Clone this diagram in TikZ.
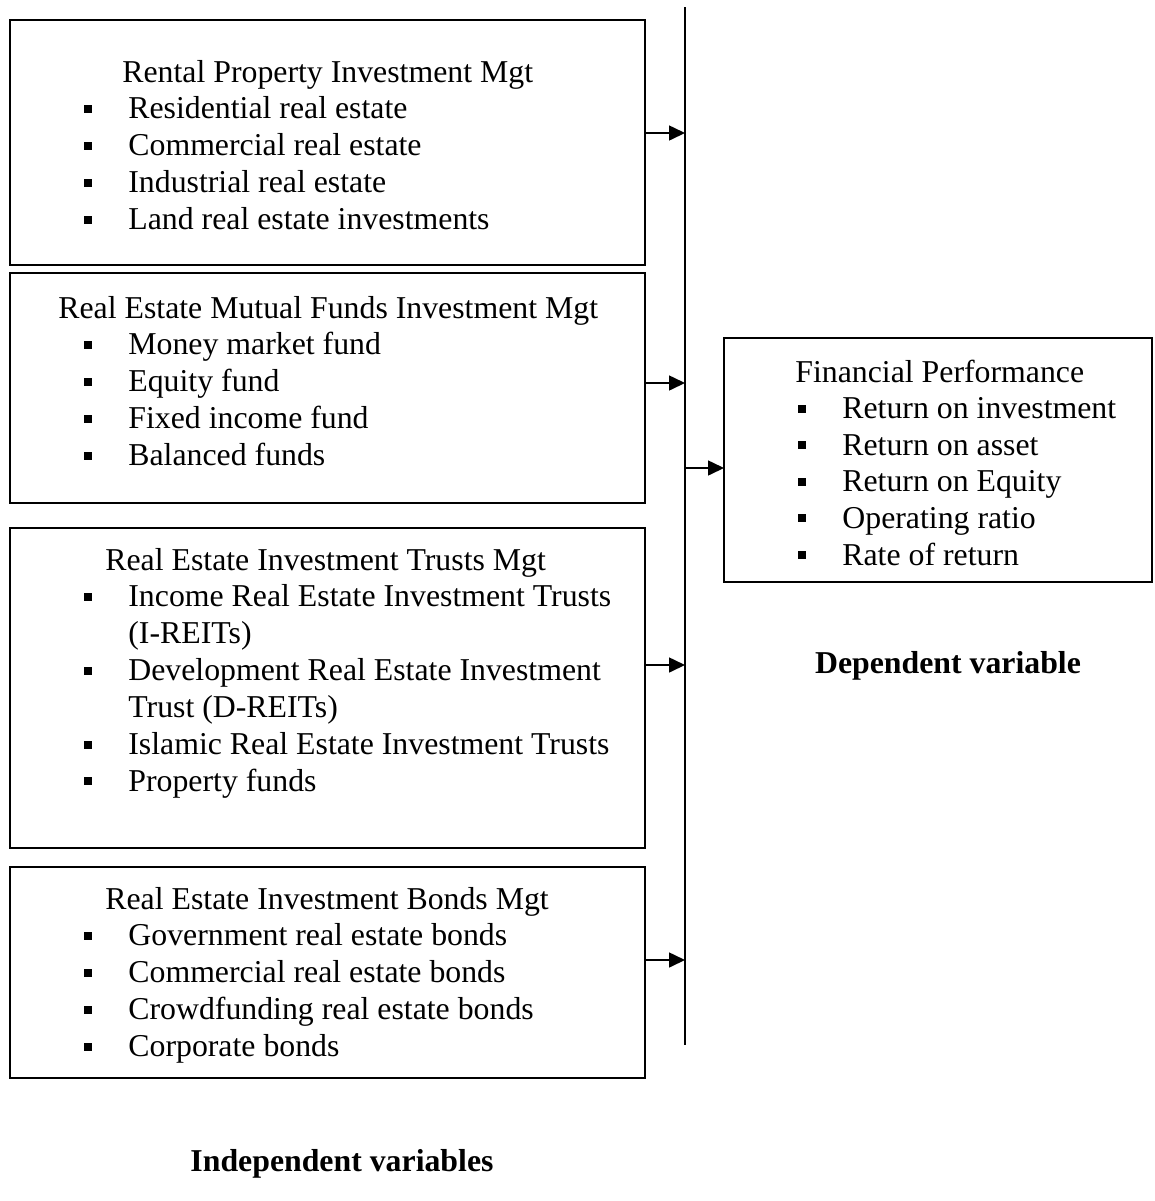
\documentclass[tikz,border=0pt]{standalone}
\usepackage{fontspec}
\setmainfont{Liberation Serif}
\usetikzlibrary{arrows.meta}
\begin{document}
\begin{tikzpicture}[x=0.5pt,y=-0.5pt,
  box/.style={draw,line width=1.1pt,inner sep=0pt,outer sep=0pt},
  txt/.style={inner sep=0pt,anchor=base west,font=\fontsize{15.9}{18.4}\selectfont},
  bul/.style={fill=black,inner sep=0pt,minimum width=3.8pt,minimum height=4pt},
  arr/.style={line width=0.8pt,-{Triangle[length=8pt,width=7.5pt]}},
  lbl/.style={inner sep=0pt,anchor=base,font=\fontsize{15.9}{18.4}\selectfont\bfseries}]
\useasboundingbox (0,0) rectangle (1155,1201);
% boxes
\node[box,minimum width=317.5pt,minimum height=122.5pt] (b1) at (327.5,142.5) {};
\node[box,minimum width=317.5pt,minimum height=115pt] (b2) at (327.5,388) {};
\node[box,minimum width=317.5pt,minimum height=160pt] (b3) at (327.5,688) {};
\node[box,minimum width=317.5pt,minimum height=105.5pt] (b4) at (327.5,972.5) {};
\node[box,minimum width=214pt,minimum height=122pt] (fp) at (938,460) {};
% box 1
\node[txt] (h1) at (122,82) {Rental Property Investment Mgt};
\foreach \t [count=\i] in {Residential real estate,Commercial real estate,Industrial real estate,Land real estate investments}{
  \node[txt] (t1-\i) at (128,{82+36.9*\i}) {\t};
  \node[bul] (p1-\i) at (88,{72+36.9*\i}) {};
}
% box 2
\node[txt] (h2) at (58,318) {Real Estate Mutual Funds Investment Mgt};
\foreach \t [count=\i] in {Money market fund,Equity fund,Fixed income fund,Balanced funds}{
  \node[txt] (t2-\i) at (128,{318+36.9*\i}) {\t};
  \node[bul] (p2-\i) at (88,{308+36.9*\i}) {};
}
% box 3
\node[txt] (h3) at (105,570) {Real Estate Investment Trusts Mgt};
\foreach \t [count=\i] in {Income Real Estate Investment Trusts,{(I-REITs)},Development Real Estate Investment,{Trust (D-REITs)},Islamic Real Estate Investment Trusts,Property funds}{
  \node[txt] (t3-\i) at (128,{570+36.9*\i}) {\t};
}
\foreach \i in {1,3,5,6}{
  \node[bul] (p3-\i) at (88,{560+36.9*\i}) {};
}
% box 4
\node[txt] (h4) at (105,909) {Real Estate Investment Bonds Mgt};
\foreach \t [count=\i] in {Government real estate bonds,Commercial real estate bonds,Crowdfunding real estate bonds,Corporate bonds}{
  \node[txt] (t4-\i) at (128,{909+36.9*\i}) {\t};
  \node[bul] (p4-\i) at (88,{899+36.9*\i}) {};
}
% right box
\node[txt] (h5) at (795,382) {Financial Performance};
\foreach \t [count=\i] in {Return on investment,Return on asset,Return on Equity,Operating ratio,Rate of return}{
  \node[txt] (t5-\i) at (842,{382+36.6*\i}) {\t};
  \node[bul] (p5-\i) at (802,{372+36.6*\i}) {};
}
% labels
\node[lbl] (dep) at (948,673) {Dependent variable};
\node[lbl] (ind) at (342,1171) {Independent variables};
% vertical line
\coordinate (vtop) at (685,7);
\coordinate (vbot) at (685,1045);
\draw[line width=0.8pt] (vtop) -- (vbot);
% arrows
\draw[arr] (b1.east |- 0,133) -- (vtop |- 0,133);
\draw[arr] (b2.east |- 0,383) -- (vtop |- 0,383);
\draw[arr] (b3.east |- 0,665) -- (vtop |- 0,665);
\draw[arr] (b4.east |- 0,960) -- (vtop |- 0,960);
\draw[arr] (vtop |- 0,468) -- (fp.west |- 0,468);
\end{tikzpicture}
\end{document}
